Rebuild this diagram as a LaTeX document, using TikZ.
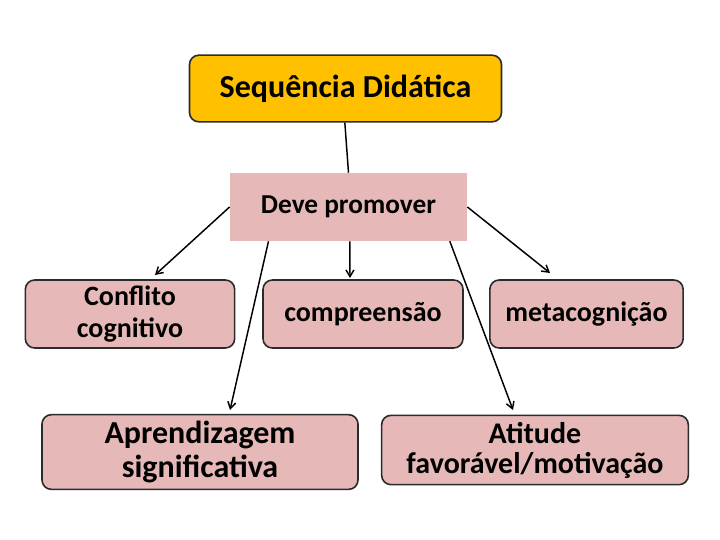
\documentclass[tikz,border=0pt]{standalone}
\usepackage{fontspec}
\setmainfont{Carlito}
\usetikzlibrary{positioning, arrows.meta}
\definecolor{seqGold}{HTML}{FFC000}
\definecolor{seqPink}{HTML}{E6B9B8}
\definecolor{seqEdge}{HTML}{2B2B2B}

\begin{document}
\begin{tikzpicture}[
  x=0.75pt, y=-0.75pt,
  every node/.style={font=\bfseries, text=black},
  titlebox/.style={
    rectangle, rounded corners=7pt,
    minimum width=234pt, minimum height=50pt,
    draw=seqEdge, line width=1.2pt,
    fill=seqGold, font=\fontsize{24}{26}\selectfont\bfseries
  },
  midbox/.style={
    rectangle, minimum width=178pt, minimum height=51pt,
    fill=seqPink, font=\fontsize{20.5}{22}\selectfont\bfseries
  },
  ideabox/.style={
    rectangle, rounded corners=7pt,
    minimum height=51pt, inner sep=1pt,
    draw=seqEdge, line width=1.2pt,
    fill=seqPink, align=center,
    font=\fontsize{21}{24.5}\selectfont\bfseries
  },
  link/.style={black, line width=1.1pt, -{Straight Barb[length=5pt,width=6pt]}},
]
\useasboundingbox (0,0) rectangle (720,539);

% Title
\node[titlebox] (seq) at (345.5,88.5) {Sequência Didática};

% Middle
\node[midbox] (deve) at (348.5,207) {Deve promover};

% First row
\node[ideabox, minimum width=157pt] (conf) at (130,314) {Conflito\\cognitivo};
\node[ideabox, minimum width=150pt] (comp) at (363,314) {compreensão};
\node[ideabox, minimum width=145pt] (meta) at (586.5,314) {metacognição};

% Second row
\node[ideabox, minimum width=237pt, minimum height=56pt,
      font=\fontsize{24}{25}\selectfont\bfseries] (apre) at (200,452) {Aprendizagem\\significativa};
\node[ideabox, minimum width=230pt, minimum height=52pt,
      font=\fontsize{22.5}{22.5}\selectfont\bfseries] (atit) at (535,450) {Atitude\\favorável/motivação};

% Connections
\draw[black, line width=1.1pt] ([xshift=-0.5pt]seq.south) -- (deve.north);
\coordinate (c1) at (155,275);
\coordinate (c2) at (350,278);
\coordinate (c3) at (550,273);
\coordinate (c4) at (230,410);
\coordinate (c5) at (513,410);
\draw[link] (deve.west) -- (c1);
\draw[link] ([xshift=1pt]deve.south) -- (c2);
\draw[link] (deve.east) -- (c3);
\draw[link] ([xshift=-60pt]deve.south) -- (c4);
\draw[link] ([xshift=76pt]deve.south) -- (c5);

\end{tikzpicture}
\end{document}
